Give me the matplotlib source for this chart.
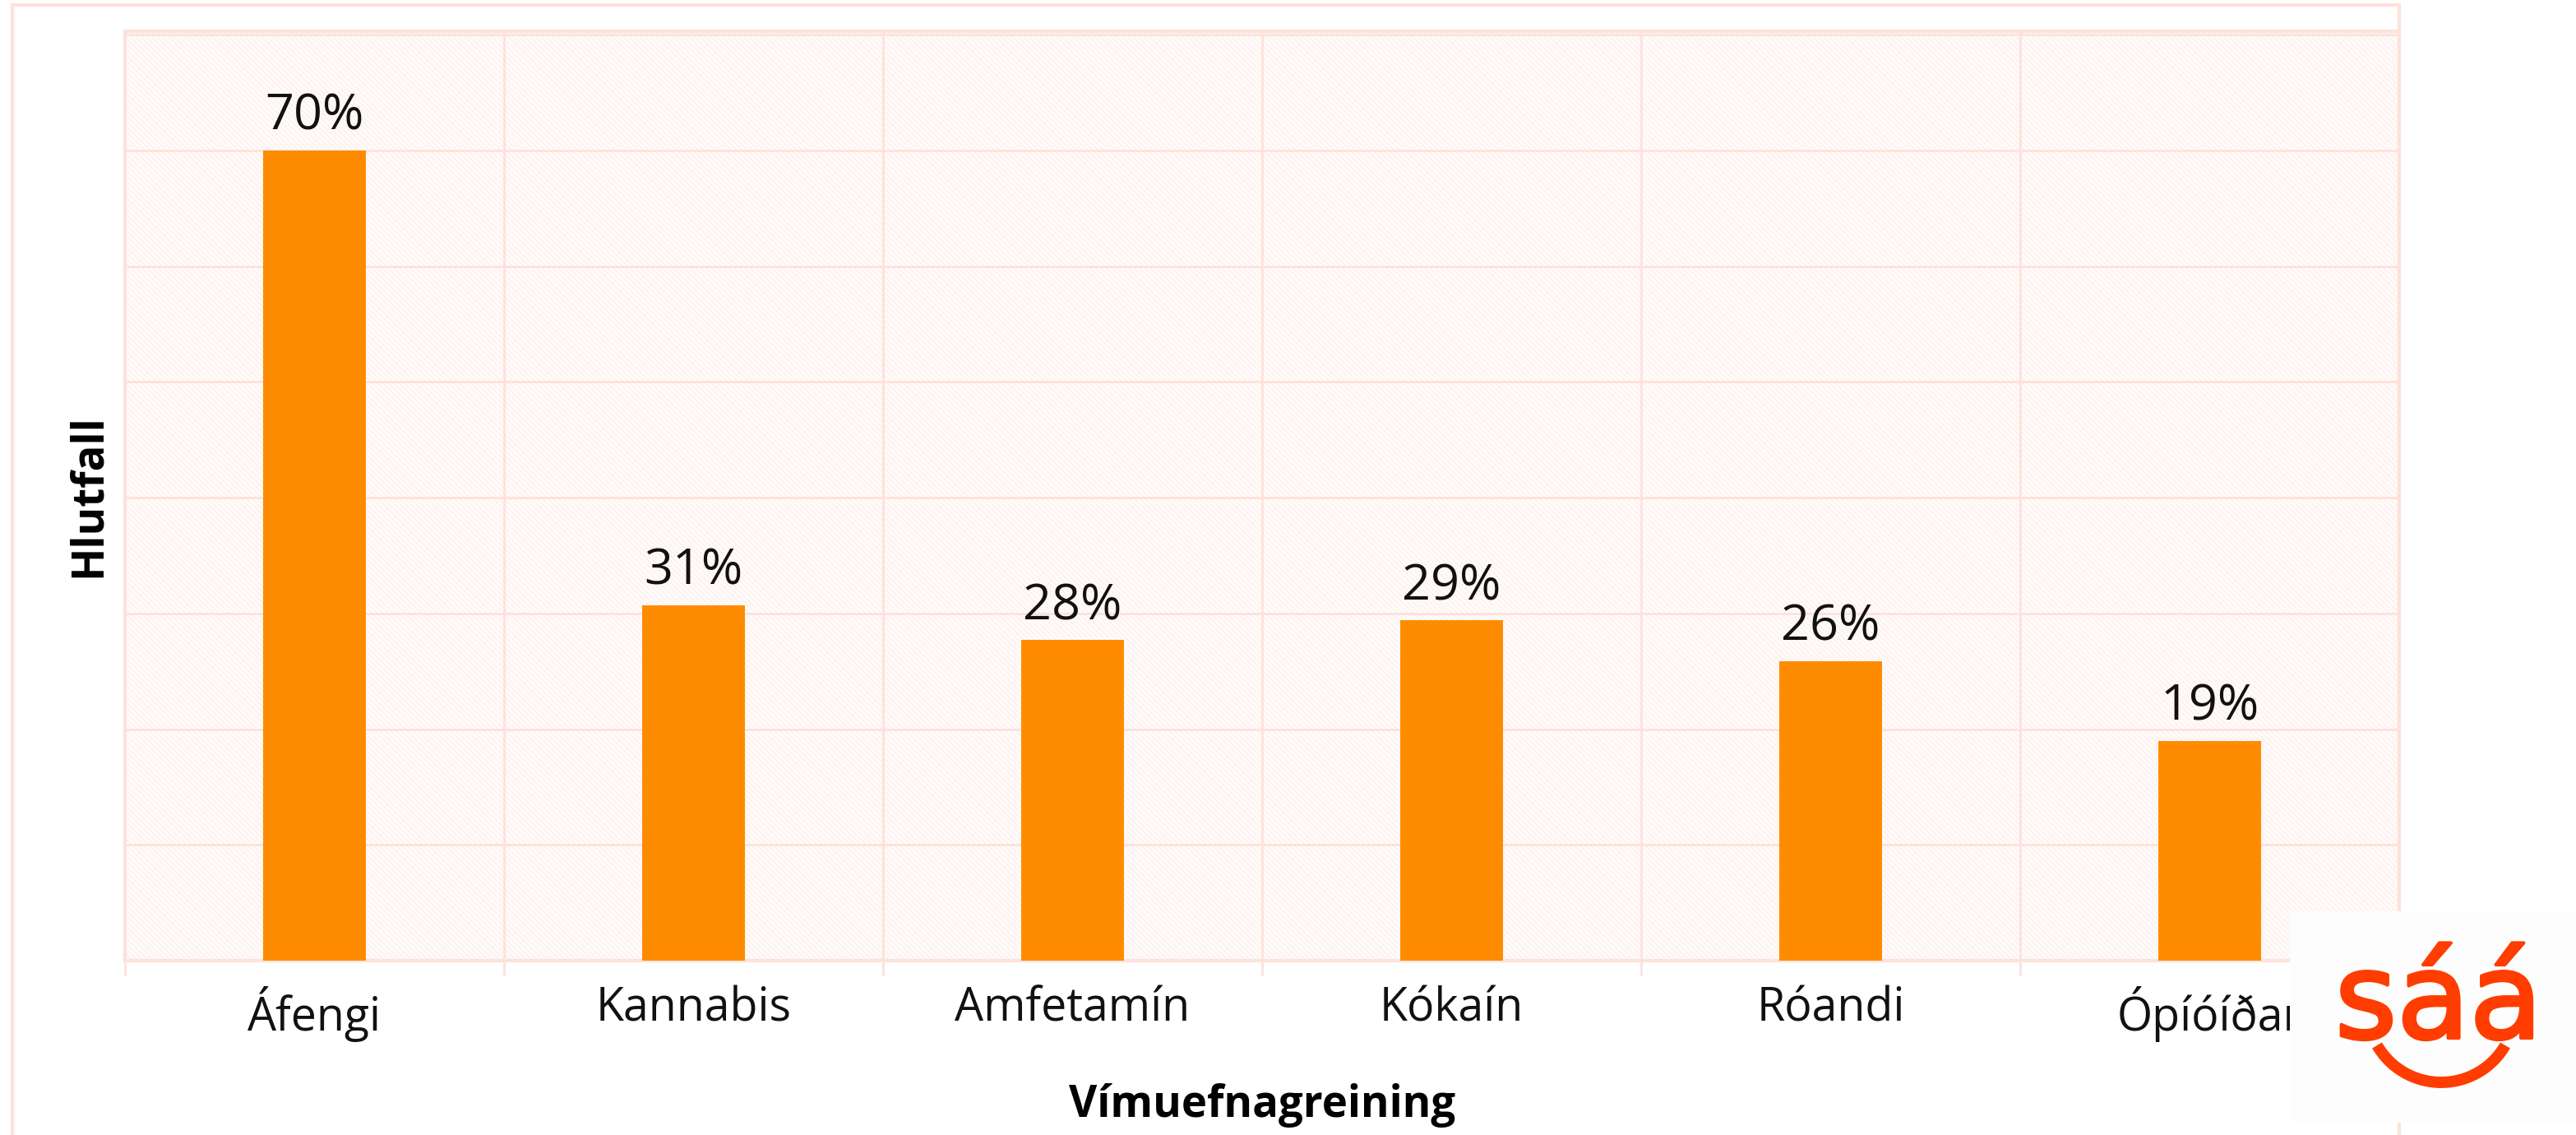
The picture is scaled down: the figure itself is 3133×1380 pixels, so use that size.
import matplotlib.pyplot as plt
from matplotlib.patches import Rectangle, Arc
import matplotlib.patheffects as pe
import numpy as np

plt.rcParams['font.family'] = ['Open Sans', 'DejaVu Sans']
plt.rcParams['hatch.linewidth'] = 1.0

# data
categories = ['Áfengi', 'Kannabis', 'Amfetamín', 'Kókaín', 'Róandi', 'Ópíóíðar']
values = [70.0, 30.7, 27.7, 29.4, 25.9, 19.0]
value_labels = ['70%', '31%', '28%', '29%', '26%', '19%']
xlabel = 'Vímuefnagreining'
ylabel = 'Hlutfall'

bar_color = '#FF8C00'
pink = '#fde2da'
logo_red = '#FF3D00'

W, H = 3133, 1380
fig = plt.figure(figsize=(W / 100, H / 100), dpi=100)

# outer frame of the slide
fig.patches.append(Rectangle((15 / W, -0.05), (2918 - 15) / W, 1.05 - 6 / H,
                             transform=fig.transFigure, fill=False,
                             edgecolor=pink, linewidth=3, zorder=0))

ax = fig.add_axes([152 / W, 1 - 1168 / H, (2918 - 152) / W, (1168 - 38) / H])
ax.set_facecolor('#fffbfa')
ax.add_patch(Rectangle((0, 0), 1, 1, transform=ax.transAxes, fill=False,
                       hatch='\\' * 5, edgecolor='#fdf0ec', linewidth=0, zorder=0.2))

x = np.arange(len(categories))
bars = ax.bar(x, values, width=0.27, color=bar_color, zorder=3)

for xi, v, lab in zip(x, values, value_labels):
    ax.annotate(lab, (xi, v), xytext=(0, 18), textcoords='offset points',
                ha='center', va='baseline', fontsize=44, color='#111111', zorder=4)

ax.set_xlim(-0.5, len(categories) - 0.5)
ax.set_ylim(0, 80.3)

# gridlines: horizontal every 10%, vertical at category boundaries
ax.set_yticks(np.arange(10, 81, 10))
ax.set_yticklabels([])
ax.tick_params(axis='y', length=0)
ax.set_xticks(x)
ax.set_xticklabels(categories, fontsize=40, color='#111111')
ax.set_xticks(np.arange(-0.5, len(categories), 1.0), minor=True)
ax.tick_params(axis='x', which='major', length=0, pad=22)
ax.tick_params(axis='x', which='minor', length=13, width=2, color=pink)
ax.grid(True, axis='y', color=pink, linewidth=2, zorder=1)
ax.grid(True, axis='x', which='minor', color=pink, linewidth=2, zorder=1)
ax.grid(False, axis='x', which='major')
ax.set_axisbelow(True)

for side in ['left', 'bottom', 'top']:
    ax.spines[side].set_color(pink)
    ax.spines[side].set_linewidth(3)
ax.spines['right'].set_color(pink)
ax.spines['right'].set_linewidth(2)

ax.set_xlabel(xlabel, fontsize=38, fontweight='bold', labelpad=36)
ax.set_ylabel(ylabel, fontsize=38, fontweight='bold', labelpad=9)

# logo box in the lower right corner
lx0, lx1, ly0, ly1 = 2785, 3133, 1108, 1365
lax = fig.add_axes([lx0 / W, 1 - ly1 / H, (lx1 - lx0) / W, (ly1 - ly0) / H], zorder=10)
lax.set_xlim(lx0, lx1)
lax.set_ylim(ly1, ly0)
lax.set_facecolor('#fdfdfd')
lax.set_xticks([])
lax.set_yticks([])
for s in lax.spines.values():
    s.set_visible(False)
lax.text(2966, 1262, 'sáá', ha='center', va='baseline', fontsize=104,
         color=logo_red, family='DejaVu Sans',
         path_effects=[pe.withStroke(linewidth=3, foreground=logo_red)])
lax.add_patch(Arc((2969, 1226), 180, 180, theta1=30, theta2=150,
                  color=logo_red, linewidth=10, capstyle='butt'))

fig.savefig('out.png', dpi=100)
